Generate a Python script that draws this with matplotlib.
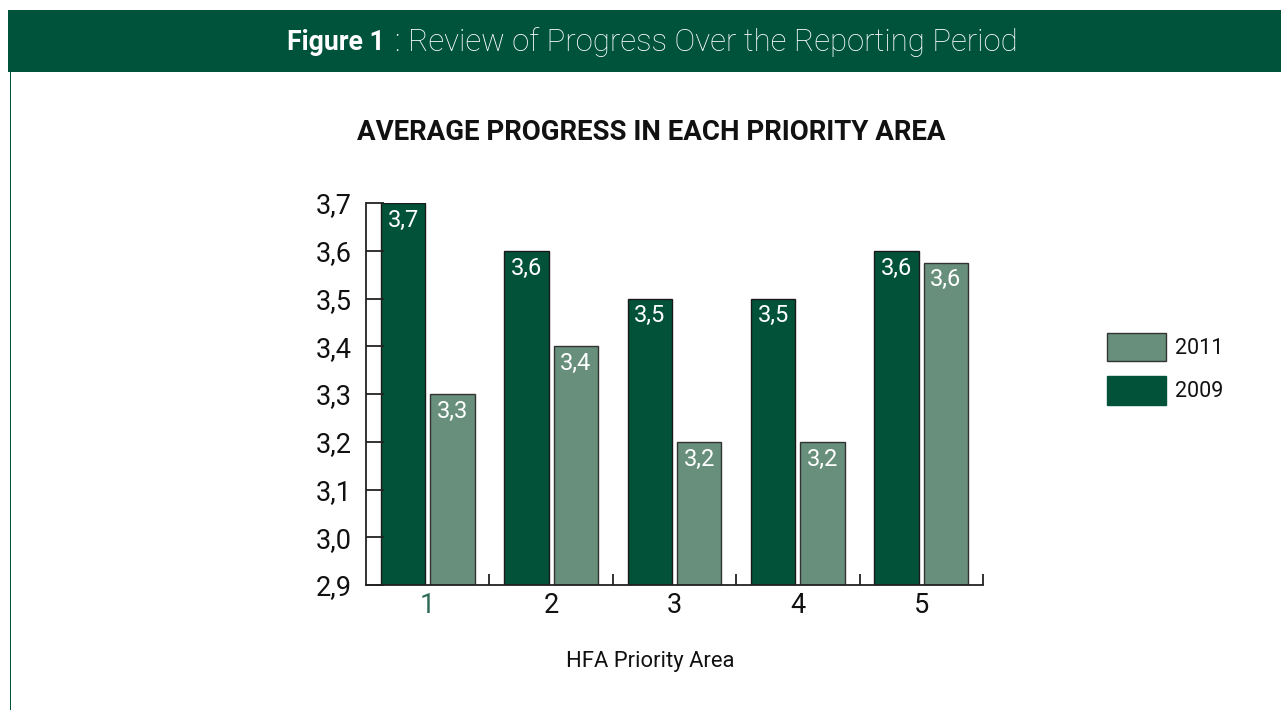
import matplotlib
matplotlib.use("Agg")
import matplotlib.pyplot as plt
from matplotlib import font_manager
from matplotlib.patches import Rectangle, Patch
import numpy as np

# ---- data ----
areas = ["1", "2", "3", "4", "5"]
values_2009 = [3.7, 3.6, 3.5, 3.5, 3.6]
values_2011 = [3.3, 3.4, 3.2, 3.2, 3.575]
labels_2009 = ["3,7", "3,6", "3,5", "3,5", "3,6"]
labels_2011 = ["3,3", "3,4", "3,2", "3,2", "3,6"]
yticks = [2.9, 3.0, 3.1, 3.2, 3.3, 3.4, 3.5, 3.6, 3.7]
ytick_labels = ["2,9", "3,0", "3,1", "3,2", "3,3", "3,4", "3,5", "3,6", "3,7"]

DARK = "#02523a"
LIGHT = "#678f7b"

avail = {f.name for f in font_manager.fontManager.ttflist}
cands = ["Roboto", "Liberation Sans", "DejaVu Sans"]
FONT = next(c for c in cands if c in avail)
plt.rcParams["font.family"] = [FONT, "DejaVu Sans"]

W, H = 1281, 710
fig = plt.figure(figsize=(W / 100, H / 100), dpi=100)
renderer = fig.canvas.get_renderer()


def fit_width(t, target_px):
    for _ in range(3):
        w = t.get_window_extent(renderer=renderer).width
        t.set_fontsize(t.get_fontsize() * target_px / w)


# header band and left border
fig.add_artist(Rectangle((8 / W, 1 - 72 / H), 1, 62 / H, transform=fig.transFigure,
                         facecolor="#00533b", edgecolor="none"))
fig.add_artist(Rectangle((9.5 / W, 0), 2 / W, 1 - 72 / H, transform=fig.transFigure,
                         facecolor="#00533b", edgecolor="none"))
tb = fig.text(287 / W, 1 - 42 / H, "Figure 1", color="white", fontsize=20,
              fontweight="bold", ha="left", va="center")
fit_width(tb, 98)
tn = fig.text(395 / W, 1 - 42 / H, ": Review of Progress Over the Reporting Period",
              color="white", fontsize=20, fontweight="light", ha="left", va="center")
fit_width(tn, 622)

tt = fig.text(651.5 / W, 1 - 133 / H, "AVERAGE PROGRESS IN EACH PRIORITY AREA",
              fontsize=18, fontweight="bold", ha="center", va="center", color="#111111")
fit_width(tt, 589)

ax = fig.add_axes([366 / W, 1 - 585 / H, (983 - 366) / W, (585 - 203) / H])
x = np.arange(len(areas))
bw = 0.36
off = 0.2
ax.bar(x - off, [v - 2.9 for v in values_2009], bw, bottom=2.9, color=DARK,
       edgecolor="#1a1a1a", linewidth=1.0, label="2009")
ax.bar(x + off, [v - 2.9 for v in values_2011], bw, bottom=2.9, color=LIGHT,
       edgecolor="#333333", linewidth=1.0, label="2011")
for xi, v, lab in zip(x, values_2009, labels_2009):
    ax.text(xi - off, v - 0.012, lab, ha="center", va="top", color="white", fontsize=17)
for xi, v, lab in zip(x, values_2011, labels_2011):
    ax.text(xi + off, v - 0.012, lab, ha="center", va="top", color="white", fontsize=17)

ax.set_xlim(-0.5, len(areas) - 0.5)
ax.set_ylim(2.9, 3.7)
ax.set_yticks(yticks)
ax.set_yticklabels(ytick_labels, fontsize=19.5, color="#111111")
ax.tick_params(axis="y", direction="in", length=13, width=1.3, pad=10, color="#222222")
ax.set_xticks(x)
ax.set_xticklabels(areas, fontsize=19.5, color="#111111")
ax.get_xticklabels()[0].set_color("#2e6b55")
ax.tick_params(axis="x", length=0, pad=5)
ax.set_xticks(np.arange(0.5, len(areas), 1.0), minor=True)
ax.tick_params(axis="x", which="minor", direction="in", length=8, width=1.3, color="#222222")
for s in ["top", "right"]:
    ax.spines[s].set_visible(False)
for s in ["left", "bottom"]:
    ax.spines[s].set_linewidth(1.3)
    ax.spines[s].set_color("#222222")

xl = fig.text(650.5 / W, 1 - 662 / H, "HFA Priority Area", fontsize=17,
              ha="center", va="center", color="#111111")
fit_width(xl, 168)

handles = [Patch(facecolor=LIGHT, edgecolor="#333333", linewidth=1.0),
           Patch(facecolor=DARK, edgecolor=DARK, linewidth=1.0)]
leg = fig.legend(handles, ["2011", "2009"], loc="upper left",
                 bbox_to_anchor=(1107 / W, 1 - 332.5 / H), frameon=False, fontsize=15.5,
                 handlelength=2.75, handleheight=1.68, labelspacing=0.68,
                 handletextpad=0.4, borderpad=0, borderaxespad=0)
for t in leg.get_texts():
    t.set_color("#111111")

fig.savefig("out.png", dpi=100)
